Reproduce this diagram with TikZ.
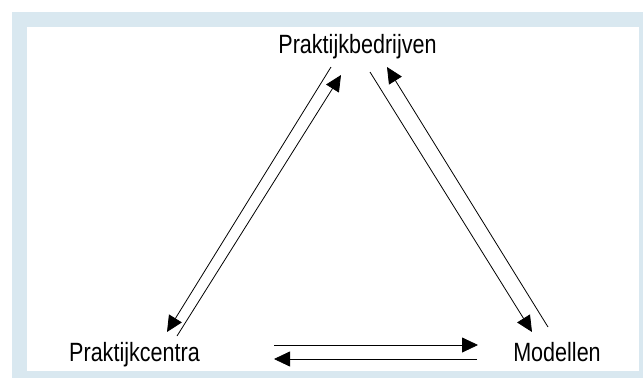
\documentclass[tikz,border=0pt]{standalone}
\usepackage{fontspec}
\setmainfont{Liberation Sans}
\usepackage{tikz}
\usetikzlibrary{arrows.meta,positioning}
\definecolor{framebg}{RGB}{217,232,240}
\newcommand{\tall}[1]{\scalebox{0.98}[1.2]{#1}}

\begin{document}
\begin{tikzpicture}[x=1pt,y=-1pt,
    lbl/.style={inner sep=0pt,anchor=base,font=\fontsize{22}{26}\selectfont},
    arr/.style={line width=0.8pt,-{Triangle[length=16pt,width=15pt]}}]
          \useasboundingbox (0,0) rectangle (643,378);
          \fill [framebg] (12,12) rectangle (643,378);
          \fill [white] (27,27) rectangle (639,371);
          \node [lbl] (bedrijven) at (357.5,53) {\tall{Praktijkbedrijven}};
          \node [lbl] (centra) at (134.5,361) {\tall{Praktijkcentra}};
          \node [lbl] (modellen) at (557,361) {\tall{Modellen}};
          % left pair
          \draw [arr] ([shift={(-26.5,14)}]bedrijven.base) -- ([shift={(32.5,-29)}]centra.base);
          \draw [arr] ([shift={(42.5,-25)}]centra.base) -- ([shift={(-16.5,22)}]bedrijven.base);
          % right pair
          \draw [arr] ([shift={(12.5,19)}]bedrijven.base) -- ([shift={(-25,-29)}]modellen.base);
          \draw [arr] ([shift={(-9,-34)}]modellen.base) -- ([shift={(29.5,14)}]bedrijven.base);
          % bottom pair
          \draw [arr] ([shift={(139.5,-16)}]centra.base) -- ([shift={(-79,-16)}]modellen.base);
          \draw [arr] ([shift={(-80,-2)}]modellen.base) -- ([shift={(139.5,-2)}]centra.base);
     \end{tikzpicture}
\end{document}
